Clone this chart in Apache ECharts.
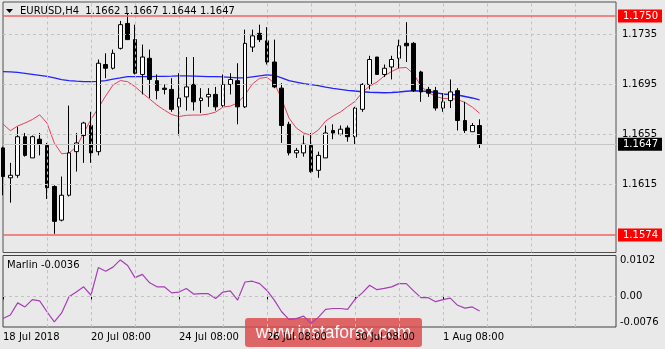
<!DOCTYPE html>
<html><head><meta charset="utf-8">
<script src="https://cdn.jsdelivr.net/npm/echarts@6/dist/echarts.min.js"></script>
<style>html,body{margin:0;padding:0;background:#e9e9e9;} #c{width:665px;height:349px;}</style>
</head><body><div id="c"></div>
<script>
const symbol = 'EURUSD,H4';
const opens  = [1.1644,1.1620,1.1622,1.1653,1.1636,1.1651,1.1646,1.1613,1.1586,1.1606,1.1641,1.1654,1.1662,1.1641,1.1711,1.1708,1.1724,1.1744,1.1731,1.1703,1.1716,1.1698,1.1692,1.1691,1.1677,1.1685,1.1695,1.1682,1.1685,1.1687,1.1678,1.1695,1.1698,1.1677,1.1725,1.1736,1.1730,1.1713,1.1692,1.1663,1.1640,1.1640,1.1646,1.1626,1.1636,1.1658,1.1655,1.1660,1.1653,1.1675,1.1695,1.1717,1.1703,1.1709,1.1716,1.1728,1.1728,1.1705,1.1691,1.1690,1.1676,1.1682,1.1690,1.1666,1.1657,1.1662];
const closes = [1.1621,1.1622,1.1653,1.1638,1.1653,1.1647,1.1612,1.1585,1.1606,1.1640,1.1648,1.1664,1.1640,1.1712,1.1708,1.1720,1.1743,1.1731,1.1704,1.1717,1.1699,1.1690,1.1691,1.1675,1.1684,1.1693,1.1681,1.1684,1.1687,1.1677,1.1695,1.1699,1.1677,1.1728,1.1734,1.1731,1.1713,1.1693,1.1662,1.1640,1.1642,1.1647,1.1625,1.1638,1.1656,1.1656,1.1659,1.1653,1.1676,1.1695,1.1715,1.1703,1.1708,1.1715,1.1726,1.1726,1.1690,1.1689,1.1688,1.1676,1.1681,1.1689,1.1666,1.1658,1.1662,1.1647];
const lows   = [1.1606,1.1600,1.1620,1.1637,1.1636,1.1638,1.1603,1.1575,1.1585,1.1605,1.1625,1.1632,1.1632,1.1638,1.1700,1.1707,1.1723,1.1731,1.1703,1.1687,1.1684,1.1683,1.1687,1.1673,1.1654,1.1674,1.1674,1.1672,1.1677,1.1674,1.1677,1.1687,1.1663,1.1676,1.1721,1.1729,1.1711,1.1692,1.1648,1.1638,1.1636,1.1637,1.1624,1.1620,1.1636,1.1651,1.1654,1.1649,1.1647,1.1673,1.1691,1.1703,1.1701,1.1699,1.1708,1.1713,1.1689,1.1681,1.1685,1.1674,1.1673,1.1676,1.1658,1.1656,1.1657,1.1644];
const highs  = [1.1645,1.1632,1.1661,1.1656,1.1654,1.1656,1.1648,1.1614,1.1621,1.1678,1.1656,1.1665,1.1673,1.1715,1.1720,1.1723,1.1746,1.1752,1.1743,1.1727,1.1723,1.1703,1.1695,1.1700,1.1704,1.1717,1.1717,1.1692,1.1692,1.1693,1.1703,1.1704,1.1712,1.1739,1.1739,1.1743,1.1741,1.1731,1.1696,1.1665,1.1644,1.1654,1.1656,1.1641,1.1662,1.1663,1.1662,1.1662,1.1677,1.1696,1.1718,1.1717,1.1711,1.1718,1.1731,1.1745,1.1729,1.1706,1.1693,1.1693,1.1688,1.1699,1.1692,1.1681,1.1664,1.1667];
const maFast = [1.16632,1.16578,1.16616,1.16640,1.16668,1.16706,1.16640,1.16479,1.16393,1.16399,1.16447,1.16559,1.16670,1.16760,1.16857,1.16945,1.16981,1.16972,1.16933,1.16881,1.16833,1.16784,1.16744,1.16708,1.16692,1.16702,1.16704,1.16704,1.16712,1.16728,1.16768,1.16776,1.16801,1.16865,1.16953,1.16999,1.17007,1.16961,1.16833,1.16680,1.16600,1.16559,1.16543,1.16583,1.16656,1.16696,1.16728,1.16772,1.16813,1.16885,1.16937,1.16969,1.17018,1.17054,1.17082,1.17086,1.17034,1.16937,1.16885,1.16853,1.16838,1.16838,1.16829,1.16805,1.16768,1.16718];
const maSlow = [1.17052,1.17050,1.17046,1.17038,1.17030,1.17022,1.17014,1.17002,1.16989,1.16981,1.16976,1.16972,1.16972,1.16975,1.16981,1.16993,1.17002,1.17012,1.17012,1.17012,1.17012,1.17014,1.17015,1.17016,1.17018,1.17018,1.17016,1.17014,1.17012,1.17012,1.17010,1.17006,1.17002,1.17002,1.17010,1.17018,1.17026,1.17022,1.17002,1.16981,1.16969,1.16957,1.16949,1.16940,1.16929,1.16919,1.16911,1.16903,1.16897,1.16891,1.16887,1.16885,1.16883,1.16885,1.16889,1.16895,1.16899,1.16897,1.16893,1.16885,1.16873,1.16869,1.16865,1.16853,1.16841,1.16825];
const marlin = [-0.0055,-0.0046,-0.0016,-0.0026,-0.0008,-0.0011,-0.0038,-0.0063,-0.0041,-0.0001,0.0011,0.0024,0.0003,0.0072,0.0063,0.0073,0.0091,0.0077,0.0047,0.0055,0.0034,0.0024,0.0024,0.0009,0.0011,0.0020,0.0006,0.0007,0.0007,-0.0005,0.0011,0.0014,-0.0009,0.0036,0.0038,0.0032,0.0015,-0.0009,-0.0038,-0.0057,-0.0055,-0.0049,-0.0067,-0.0052,-0.0032,-0.0030,-0.0030,-0.0032,-0.0007,0.0009,0.0028,0.0017,0.0020,0.0024,0.0032,0.0032,0.0014,-0.0003,-0.0003,-0.0013,-0.0008,-0.0004,-0.0022,-0.0029,-0.0026,-0.0036];
const timeTickIndex = [0,12,24,36,48,60];
const timeLabels = ['18 Jul 2018','20 Jul 08:00','24 Jul 08:00','26 Jul 08:00','30 Jul 08:00','1 Aug 08:00'];
const priceTicks = [1.1615,1.1655,1.1695,1.1735];
const levelLines = [1.1750,1.1574];
const marlinTicks = [-0.0076,0,0.0102];
const vGridIndex = [6,12,18,24,30,36,42,48,54,60,66,72,78];

const FONT = 'DejaVu Sans';
const n = opens.length;
const last = n - 1;
const bid = closes[last];
const xMax = 83.6;

const candleData = opens.map((o, i) => [i, o, closes[i], lows[i], highs[i]]);
const gridDash = {type:[3,3], color:'#c2c2c2', width:1};

const option = {
  animation: false,
  backgroundColor: '#e9e9e9',
  textStyle: {fontFamily: FONT},
  title: [
    {text: symbol + '  ' + opens[last].toFixed(4) + ' ' + highs[last].toFixed(4) + ' ' + lows[last].toFixed(4) + ' ' + closes[last].toFixed(4),
     left: 20, top: 6, padding: 0, textStyle: {fontSize: 10, fontWeight: 'normal', color: '#000', fontFamily: FONT}},
    {text: 'Marlin ' + marlin[last].toFixed(4), left: 7, top: 260, padding: 0,
     textStyle: {fontSize: 10, fontWeight: 'normal', color: '#000', fontFamily: FONT}}
  ],
  grid: [
    {left: 3, right: 49, top: 2, bottom: 96.5, show: true, borderColor: '#505050', borderWidth: 1, backgroundColor: 'transparent'},
    {left: 3, right: 49, top: 255.5, bottom: 22, show: true, borderColor: '#404040', borderWidth: 1, backgroundColor: 'transparent'}
  ],
  xAxis: [
    {type: 'value', gridIndex: 0, min: 0, max: xMax, axisLine: {show: false}, axisTick: {show: false}, axisLabel: {show: false}, splitLine: {show: false}},
    {type: 'value', gridIndex: 1, min: 0, max: xMax, axisLine: {show: false}, splitLine: {show: false},
     axisTick: {show: true, customValues: timeTickIndex, length: 3, lineStyle: {color: '#000'}},
     axisLabel: {customValues: timeTickIndex, formatter: v => timeLabels[timeTickIndex.indexOf(Math.round(v))] || '',
       align: 'left', margin: 5, fontSize: 10, color: '#000', fontFamily: FONT, showMinLabel: true, showMaxLabel: true}}
  ],
  yAxis: [
    {type: 'value', gridIndex: 0, position: 'right', min: 1.156, max: 1.17612, scale: true,
     axisLine: {show: false}, splitLine: {show: false},
     axisTick: {show: true, customValues: priceTicks, length: 3, lineStyle: {color: '#000'}},
     axisLabel: {customValues: priceTicks, formatter: v => v.toFixed(4), margin: 6, fontSize: 10, color: '#000', fontFamily: FONT}},
    {type: 'value', gridIndex: 1, position: 'right', min: -0.0076, max: 0.0102,
     axisLine: {show: false}, splitLine: {show: false},
     axisTick: {show: true, customValues: [0], length: 3, lineStyle: {color: '#000'}},
     axisLabel: {customValues: marlinTicks, formatter: v => (Math.abs(v) < 1e-9 ? '0.00' : v.toFixed(4)), margin: 4,
       fontSize: 10, color: '#000', fontFamily: FONT, verticalAlignMinLabel: 'bottom', verticalAlignMaxLabel: 'top'}}
  ],
  series: [
    {type: 'line', name: 'grid0', xAxisIndex: 0, yAxisIndex: 0, data: [], z: 0, silent: true,
     markLine: {silent: true, precision: 6, symbol: ['none', 'none'], label: {show: false}, lineStyle: gridDash, animation: false,
       data: priceTicks.map(v => ({yAxis: v})).concat(vGridIndex.map(i => ({xAxis: i})))}},
    {type: 'line', name: 'grid1', xAxisIndex: 1, yAxisIndex: 1, data: [], z: 0, silent: true,
     markLine: {silent: true, precision: 6, symbol: ['none', 'none'], label: {show: false}, lineStyle: gridDash, animation: false,
       data: [{yAxis: 0}].concat(vGridIndex.map(i => ({xAxis: i})))}},
    {type: 'line', name: 'levels', xAxisIndex: 0, yAxisIndex: 0, data: [], z: 1, silent: true,
     markLine: {silent: true, precision: 6, symbol: ['none', 'none'], animation: false,
       label: {show: true, position: 'end', distance: 2, formatter: p => Number(p.value).toFixed(4), color: '#fff',
         fontSize: 10, fontFamily: FONT, padding: [2, 4, 1, 5]},
       data: levelLines.map(v => ({yAxis: v, lineStyle: {color: '#ef6464', width: 1.6, type: 'solid'},
         label: {backgroundColor: '#ff0000'}})).concat([
         {yAxis: bid, lineStyle: {color: '#c6c6c6', width: 1, type: 'solid'}, label: {backgroundColor: '#000000'}}])}},
    {type: 'line', name: 'maSlow', xAxisIndex: 0, yAxisIndex: 0, data: maSlow.map((v, i) => [i, v]), showSymbol: false,
     lineStyle: {color: '#2323ff', width: 1.3}, z: 2, silent: true},
    {type: 'line', name: 'maFast', xAxisIndex: 0, yAxisIndex: 0, data: maFast.map((v, i) => [i, v]), showSymbol: false,
     lineStyle: {color: '#e8405c', width: 1}, z: 2, silent: true},
    {type: 'candlestick', name: symbol, xAxisIndex: 0, yAxisIndex: 0, data: candleData, encode: {x: 0, y: [1, 2, 3, 4]},
     barWidth: 4, z: 3, silent: true,
     itemStyle: {color: '#ffffff', color0: '#000000', borderColor: '#000000', borderColor0: '#000000', borderWidth: 1}},
    {type: 'line', name: 'Marlin', xAxisIndex: 1, yAxisIndex: 1, data: marlin.map((v, i) => [i, v]), showSymbol: false,
     lineStyle: {color: '#a53fb4', width: 1.2}, z: 2, silent: true}
  ],
  graphic: [
    {type: 'polygon', shape: {points: [[6, 9], [13, 9], [9.5, 13]]}, style: {fill: '#000'}, z: 50},
    {type: 'group', z: 100, children: [
      {type: 'rect', shape: {x: 245, y: 318, width: 177, height: 29, r: 3}, style: {fill: 'rgba(220,77,77,0.85)'}},
      {type: 'text', x: 333.5, y: 333, style: {text: 'www.instaforex.com', fill: 'rgba(255,255,255,0.95)',
        font: '17.5px "Liberation Sans"', align: 'center', verticalAlign: 'middle'}}
    ]}
  ]
};
const chart = echarts.init(document.getElementById('c'));
chart.setOption(option);
</script></body></html>
